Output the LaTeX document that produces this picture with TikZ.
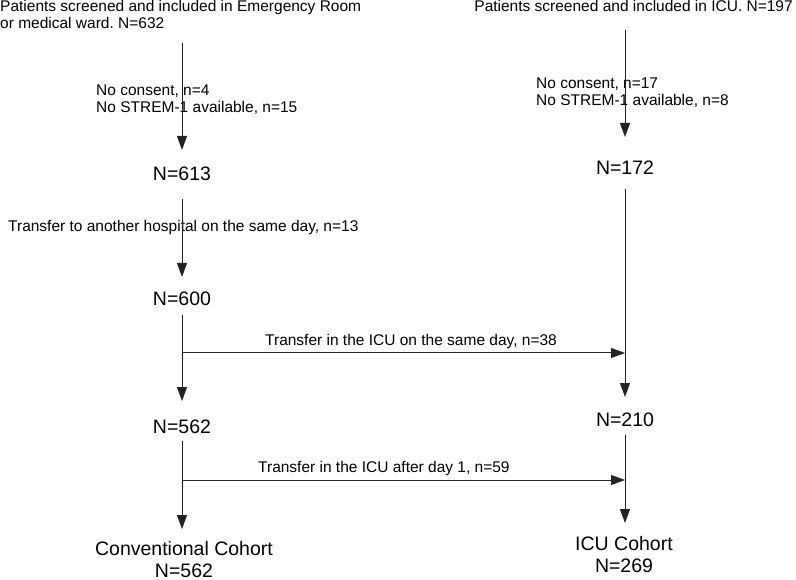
\documentclass[tikz,border=0pt]{standalone}
\usepackage{fontspec}
\setmainfont{Liberation Sans}
\usetikzlibrary{arrows.meta}
\definecolor{linegray}{HTML}{222222}
\frenchspacing

\tikzset{
  flow/.style={draw=linegray, line width=1pt, -{Triangle[length=14pt,width=10pt]}},
  smalltxt/.style={font=\fontsize{15.5}{17.5}\selectfont, inner sep=0pt},
  bigtxt/.style={font=\fontsize{19.5}{22}\selectfont, inner sep=0pt}
}

\begin{document}
\begin{tikzpicture}[x=1pt, y=-1pt]
  \useasboundingbox (0,0) rectangle (796,580);
  % \draw [help lines, step=50] (0,0) grid (796,580);

  % headings
  \node [smalltxt, anchor=base west, align=left] (erTitle) at (0,29)
    {Patients screened and included in Emergency Room\\or medical ward. N=632};
  \node [smalltxt, anchor=base east] (icuTitle) at (793,12)
    {Patients screened and included in ICU. N=197};

  % exclusions
  \node [smalltxt, anchor=base west, align=left] (erExcl) at (96,113)
    {No consent, n=4\\No STREM-1 available, n=15};
  \node [smalltxt, anchor=base west, align=left] (icuExcl) at (536,106)
    {No consent, n=17\\No STREM-1 available, n=8};

  % counts
  \node [bigtxt, anchor=base] (n613) at (182,181) {N=613};
  \node [bigtxt, anchor=base] (n172) at (625,175) {N=172};
  \node [smalltxt, anchor=base west] (hospTxt) at (8,232)
    {Transfer to another hospital on the same day, n=13};
  \node [bigtxt, anchor=base] (n600) at (182,306) {N=600};
  \node [smalltxt, anchor=base west] (sameDayTxt) at (265,346)
    {Transfer in the ICU on the same day, n=38};
  \node [bigtxt, anchor=base] (n562) at (182,433) {N=562};
  \node [bigtxt, anchor=base] (n210) at (625,426) {N=210};
  \node [smalltxt, anchor=base west] (afterDayTxt) at (258,472)
    {Transfer in the ICU after day 1, n=59};

  % cohorts
  \node [bigtxt, anchor=base] (convName) at (184,555) {Conventional Cohort};
  \node [bigtxt, anchor=base] (convN) at (184,577) {N=562};
  \node [bigtxt, anchor=base] (icuName) at (624,550) {ICU Cohort};
  \node [bigtxt, anchor=base] (icuN) at (624,572) {N=269};

  % arrow ends
  \coordinate (erOut) at (182,43);
  \coordinate (n613In) at (182,150);
  \coordinate (n613Out) at (182,199);
  \coordinate (n600In) at (182,277);
  \coordinate (n600Out) at (182,315);
  \coordinate (n562In) at (182,401);
  \coordinate (n562Out) at (182,441);
  \coordinate (convIn) at (182,529);
  \coordinate (icuOut) at (625,30);
  \coordinate (n172In) at (625,137);
  \coordinate (n172Out) at (625,189);
  \coordinate (n210In) at (625,397);
  \coordinate (n210Out) at (625,435);
  \coordinate (icuIn) at (625,523);
  \coordinate (split1) at (182,353);
  \coordinate (join1) at (625,353);
  \coordinate (split2) at (182,480);
  \coordinate (join2) at (625,480);

  % left column
  \draw [flow] (erOut) -- (n613In);
  \draw [flow] (n613Out) -- (n600In);
  \draw [flow] (n600Out) -- (n562In);
  \draw [flow] (n562Out) -- (convIn);

  % right column
  \draw [flow] (icuOut) -- (n172In);
  \draw [flow] (n172Out) -- (n210In);
  \draw [flow] (n210Out) -- (icuIn);

  % transfers to ICU
  \draw [flow] (split1) -- (join1);
  \draw [flow] (split2) -- (join2);
\end{tikzpicture}
\end{document}
